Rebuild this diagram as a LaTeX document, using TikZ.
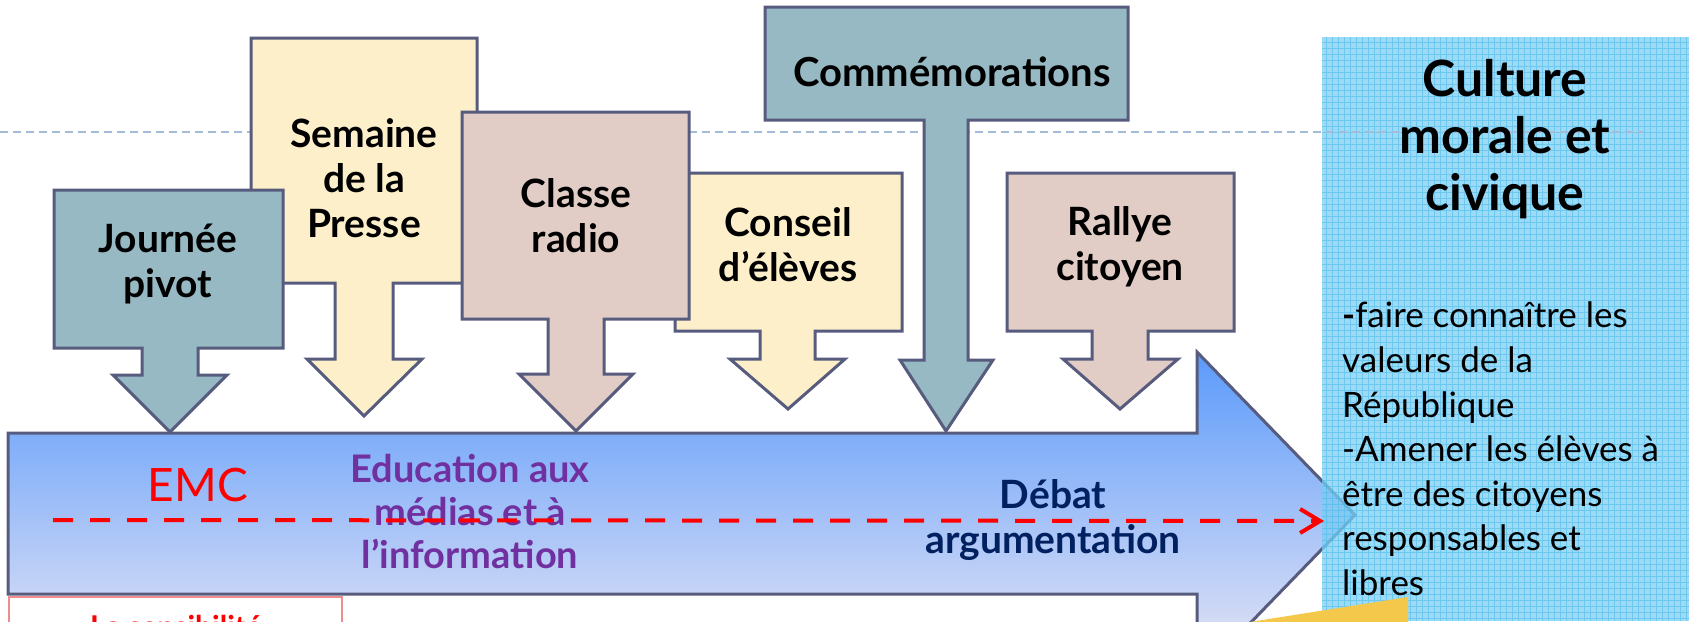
\documentclass[tikz,border=0pt]{standalone}
\usepackage{fontspec}
\setmainfont{Lato}
\usetikzlibrary{arrows.meta}
\definecolor{bordc}{HTML}{575C7E}
\definecolor{tealc}{HTML}{96B9C3}
\definecolor{yelc}{HTML}{FDEFCA}
\definecolor{pinkc}{HTML}{E2CDC6}
\definecolor{panelc}{HTML}{7CCDF2}
\definecolor{gridc}{HTML}{3FB8EA}
\definecolor{purp}{HTML}{7030A0}
\definecolor{navyc}{HTML}{002060}
\definecolor{dashgray}{HTML}{A4BCD8}
\definecolor{arrtop}{HTML}{5A9AFB}
\definecolor{arrbot}{HTML}{ECE8F4}
\definecolor{goldc}{HTML}{F4C84A}
\definecolor{redbox}{HTML}{F08C8C}
\definecolor{redc}{HTML}{FF0000}
\begin{document}
\begin{tikzpicture}[x=1pt,y=-1pt,
  callout/.style={draw=bordc,line width=3pt,line join=miter},
  lbl/.style={font=\fontsize{39}{45}\selectfont\bfseries,align=center,inner sep=0pt,text=black}]
\useasboundingbox (0,0) rectangle (1689,621);
\clip (0,0) rectangle (1689,621);
% main arrow
\draw[draw=bordc,line width=3pt,top color=arrtop,bottom color=arrbot]
  (8,433) -- (1197,433) -- (1197,352) -- (1355,515) -- (1197,678) -- (1197,594) -- (8,594) -- cycle;
% right panel
\fill[panelc,fill opacity=0.75] (1322,37) rectangle (1689,621);
\draw[gridc,line width=0.7pt,opacity=0.5,step=6pt] (1322,37) grid (1689,621);
% grey dashed guide
\coordinate (gl) at (0,132);
\coordinate (gr) at (1643,132);
\draw[dashgray,line width=2pt,dash pattern=on 8pt off 5pt] (gl) -- (gr);
% yellow piece
\fill[goldc] (1250,622) -- (1408,597) -- (1408,625) -- cycle;
% red box
\draw[redbox,line width=1.2pt,fill=white] (9,597) rectangle (342,650);
\node[font=\fontsize{30}{36}\selectfont\bfseries,text=redc,anchor=base] (sens) at (176,637) {La sensibilité};
% callouts
\draw[callout,fill=yelc] (251,38) -- (477,38) -- (477,283) -- (393,283) -- (393,359) -- (422,359) -- (364,416) -- (307,359) -- (335,359) -- (335,283) -- (251,283) -- cycle;
\draw[callout,fill=tealc] (54,190) -- (283,190) -- (283,348) -- (198,348) -- (198,375) -- (227,375) -- (170,432) -- (113,375) -- (142,375) -- (142,348) -- (54,348) -- cycle;
\draw[callout,fill=yelc] (675,173) -- (902,173) -- (902,331) -- (815,331) -- (815,359) -- (845,359) -- (788,409) -- (730,359) -- (760,359) -- (760,331) -- (675,331) -- cycle;
\draw[callout,fill=pinkc] (462,112) -- (689,112) -- (689,319) -- (604,319) -- (604,374) -- (633,374) -- (576,431) -- (519,374) -- (548,374) -- (548,319) -- (462,319) -- cycle;
\draw[callout,fill=tealc] (765,7) -- (1128,7) -- (1128,120) -- (968,120) -- (968,360) -- (993,360) -- (946,431) -- (900,360) -- (924,360) -- (924,120) -- (765,120) -- cycle;
\draw[callout,fill=pinkc] (1007,173) -- (1234,173) -- (1234,331) -- (1148,331) -- (1148,359) -- (1178,359) -- (1120,409) -- (1063,359) -- (1092,359) -- (1092,331) -- (1007,331) -- cycle;
% labels
\node[lbl] (journee) at (168,264) {Journée\\pivot};
\node[lbl] (semaine) at (364,178) {Semaine\\de la\\Presse};
\node[lbl] (classe) at (576,216) {Classe\\radio};
\node[lbl] (conseil) at (788,245) {Conseil\\d’élèves};
\node[lbl,font=\fontsize{40}{45}\selectfont\bfseries] (comm) at (952,72) {Commémorations};
\node[lbl] (rallye) at (1120,247) {Rallye\\citoyen};
% texts in main arrow
\node[font=\fontsize{46}{50}\selectfont,text=redc,inner sep=0pt] (emc) at (198,485) {EMC};
\node[font=\fontsize{38}{43}\selectfont\bfseries,text=purp,align=center,inner sep=0pt] (emi) at (470,512) {Education aux\\médias et à\\l’information};
\node[font=\fontsize{39}{45}\selectfont\bfseries,text=navyc,align=center,inner sep=0pt] (debat) at (1053,520) {Débat\\argumentation};
% panel texts
\node[font=\fontsize{50}{57}\selectfont\bfseries,align=center,inner sep=0pt] (cmc) at (1505,139) {Culture\\morale et\\civique};
\node[font=\fontsize{35}{44.6}\selectfont,align=left,anchor=north west,inner sep=0pt] (obj) at (1342,302) {\textbf{-}faire connaître les\\valeurs de la\\République\\-Amener les élèves à\\être des citoyens\\responsables et\\libres};
% red dashed arrow
\coordinate (rs) at (53,520);
\coordinate (re) at (1324,521);
\draw[redc,line width=4pt,dash pattern=on 20pt off 17pt,-{Straight Barb[length=20pt,width=24pt,line width=4pt]}] (rs) -- (re);
\end{tikzpicture}
\end{document}
